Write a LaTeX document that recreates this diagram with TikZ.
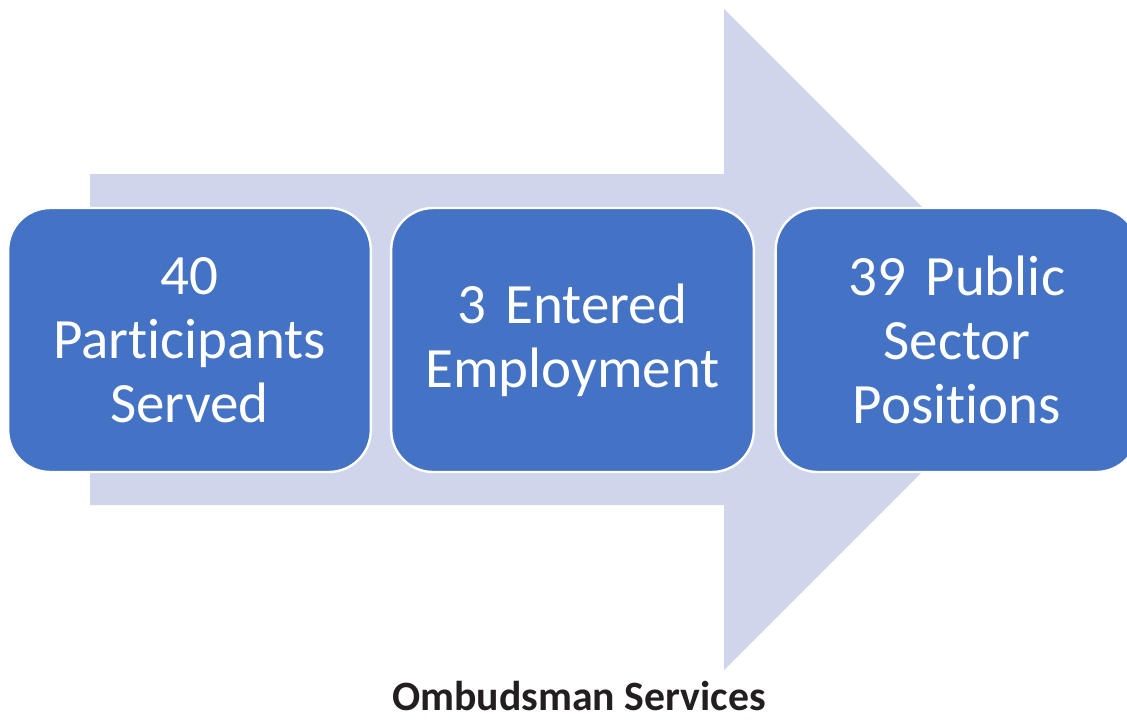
\documentclass[tikz,border=0pt]{standalone}
\usepackage{fontspec}
\setmainfont{Carlito}[Ligatures={NoCommon,TeX}]
\definecolor{boxblue}{HTML}{4472C4}
\definecolor{arrowfill}{HTML}{CFD5EA}
\definecolor{titlecol}{HTML}{231F20}
\newcommand{\nolig}{\kern0pt\relax}
\begin{document}
\begin{tikzpicture}[x=0.75pt,y=-0.75pt,
  stepbox/.style={draw=white, line width=1.8pt, fill=boxblue, rounded corners=31.5pt,
    minimum width=272pt, minimum height=198pt, text=white, align=center,
    font=\fontsize{42.75}{48}\selectfont, inner sep=0pt, text width=260pt},
  bigarrow/.style={fill=arrowfill, draw=none}]
\useasboundingbox (0,0) rectangle (1127,721);
\clip (0,0) rectangle (1127,721);
\fill[bigarrow] (90,174) -- (724,174) -- (724,9) -- (1054.5,339.5) -- (724,670) -- (724,505) -- (90,505) -- cycle;
\node[stepbox] (s1) at (189.5,340) {40\\Part\nolig icipants\\Served};
\node[stepbox] (s2) at (572.5,340) {3 Entered\\Employment};
\node[stepbox] (s3) at (957,340) {39 Public\\Sector\\Posit\nolig ions};
\node[font=\fontsize{31.3}{36}\selectfont\bfseries, text=titlecol, anchor=base] (title) at (579,710) {Ombudsman Services};
\end{tikzpicture}
\end{document}
